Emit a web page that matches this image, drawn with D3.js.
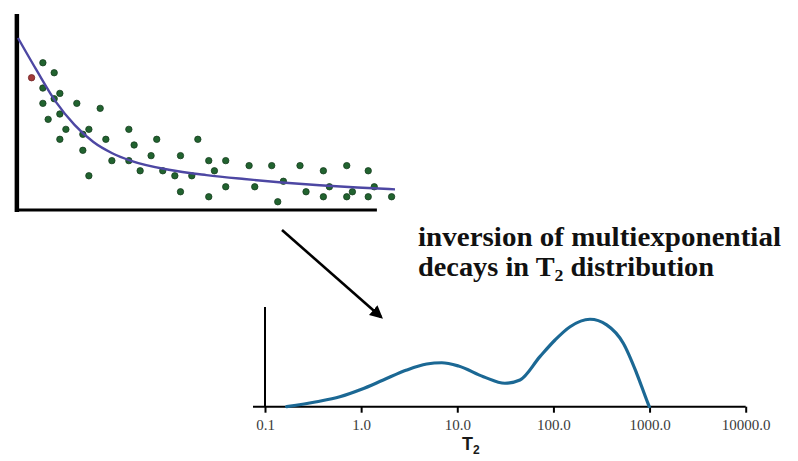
<!DOCTYPE html>
<html>
<head>
<meta charset="utf-8">
<script src="https://cdn.jsdelivr.net/npm/d3@7"></script>
<style>
  html, body { margin: 0; padding: 0; background: #fff; }
  svg { display: block; }
</style>
</head>
<body>
<svg id="fig" width="798" height="461"></svg>
<script>
// ---- Decay data: echo amplitude vs. time (arbitrary units) ----
const decayTimes = [0, 5, 10, 15, 20, 25, 30, 40, 50, 60, 70, 80, 90, 100];
const decayFit   = [100, 81, 63, 49.5, 39.5, 33, 28.6, 23.4, 20.3, 18, 16, 14.4, 13.1, 12];

const echoTimes = [6.6, 9.6, 6.6, 11.1, 9.6, 6.6, 15.6, 21.8, 11.1, 8.0,
                   12.7, 18.8, 29.4, 17.2, 11.1, 23.3, 36.8, 47.7, 30.8, 17.2,
                   35.3, 43.1, 24.9, 29.4, 50.6, 55.1, 32.4, 38.4, 52.1, 61.3,
                   67.3, 74.8, 87.2, 81.0, 92.9, 18.8, 41.6, 46.1, 70.4, 55.1,
                   62.8, 82.6, 94.5, 43.1, 76.4, 88.7, 50.6, 81.0, 87.2, 92.9,
                   99.1, 68.9];
const echoAmps  = [85.6, 79.8, 70.9, 67.8, 64.7, 62.0, 62.0, 59.1, 55.8, 52.7,
                   46.9, 46.9, 46.9, 44.0, 41.1, 41.1, 41.1, 41.1, 37.8, 34.7,
                   31.6, 31.6, 28.7, 28.7, 28.7, 28.7, 22.8, 22.8, 22.8, 25.8,
                   25.8, 25.8, 25.8, 22.8, 22.8, 19.9, 19.9, 19.9, 16.7, 13.5,
                   13.5, 13.5, 13.5, 10.6, 10.6, 10.6, 7.7, 7.7, 7.7, 7.7,
                   7.7, 4.8];
// first echo, flagged
const flaggedTime = [3.6];
const flaggedAmp  = [76.9];

// ---- T2 distribution ----
const t2Ticks  = [0.1, 1, 10, 100, 1000, 10000];
const t2Values = [0.168, 0.345, 0.60, 1.01, 1.70, 2.98, 4.81, 6.89, 10.3, 18.7,
                  31.3, 44.9, 72.4, 104, 149, 240, 358, 533, 734, 933, 993];
const t2Amps   = [0, 0.05, 0.10, 0.175, 0.268, 0.368, 0.428, 0.441, 0.408, 0.301,
                  0.235, 0.268, 0.502, 0.669, 0.802, 0.877, 0.82, 0.636, 0.335, 0.067, 0];

const captionLine1 = "inversion of multiexponential";
const captionLine2 = ["decays in T", "2", " distribution"];

const svg = d3.select("#fig");

// ================= decay panel =================
const xD = d3.scaleLinear().domain([0, 100]).range([18, 395]);
const yD = d3.scaleLinear().domain([0, 100]).range([210, 38]);

const gD = svg.append("g");

// axes (plain heavy lines)
gD.append("line")
  .attr("x1", xD(-0.3)).attr("x2", xD(-0.3))
  .attr("y1", yD(114)).attr("y2", yD(-1.2))
  .attr("stroke", "#000").attr("stroke-width", 4.5);
gD.append("line")
  .attr("x1", xD(-0.8)).attr("x2", xD(95.2))
  .attr("y1", yD(0)).attr("y2", yD(0))
  .attr("stroke", "#000").attr("stroke-width", 3);

// echo points
gD.selectAll("circle.echo")
  .data(d3.range(echoTimes.length))
  .join("circle")
  .attr("class", "echo")
  .attr("cx", i => xD(echoTimes[i]))
  .attr("cy", i => yD(echoAmps[i]))
  .attr("r", 3.2)
  .attr("fill", "#21632f")
  .attr("stroke", "#163d20")
  .attr("stroke-width", 0.8);

gD.selectAll("circle.flag")
  .data(d3.range(flaggedTime.length))
  .join("circle")
  .attr("class", "flag")
  .attr("cx", i => xD(flaggedTime[i]))
  .attr("cy", i => yD(flaggedAmp[i]))
  .attr("r", 3.2)
  .attr("fill", "#a33a3a")
  .attr("stroke", "#6e2424")
  .attr("stroke-width", 0.8);

// fitted decay curve
const decayLine = d3.line()
  .x(i => xD(decayTimes[i]))
  .y(i => yD(decayFit[i]))
  .curve(d3.curveMonotoneX);
gD.append("path")
  .attr("d", decayLine(d3.range(decayTimes.length)))
  .attr("fill", "none")
  .attr("stroke", "#4d47a3")
  .attr("stroke-width", 2.4);

// ================= arrow =================
const defs = svg.append("defs");
defs.append("marker")
  .attr("id", "head")
  .attr("viewBox", "0 0 10 10")
  .attr("refX", 8).attr("refY", 5)
  .attr("markerWidth", 5).attr("markerHeight", 5)
  .attr("orient", "auto")
  .append("path")
  .attr("d", "M0,0 L10,5 L0,10 Z")
  .attr("fill", "#000");

svg.append("line")
  .attr("x1", 282).attr("y1", 230)
  .attr("x2", 381).attr("y2", 317)
  .attr("stroke", "#000")
  .attr("stroke-width", 2.6)
  .attr("marker-end", "url(#head)");

// ================= caption (two lines) =================
const capFont = "'Liberation Serif', 'Times New Roman', serif";

svg.append("text")
  .attr("x", 418).attr("y", 246)
  .attr("font-family", capFont)
  .attr("font-weight", "bold")
  .attr("font-size", 27)
  .attr("fill", "#111")
  .attr("textLength", 363)
  .attr("lengthAdjust", "spacingAndGlyphs")
  .text(captionLine1);

const cap2 = svg.append("text")
  .attr("x", 418).attr("y", 276)
  .attr("font-family", capFont)
  .attr("font-weight", "bold")
  .attr("font-size", 27)
  .attr("fill", "#111")
  .attr("textLength", 296)
  .attr("lengthAdjust", "spacingAndGlyphs");
cap2.append("tspan").text(captionLine2[0]);
cap2.append("tspan").text(captionLine2[1]).attr("font-size", 17).attr("dy", 5);
cap2.append("tspan").text(captionLine2[2]).attr("dy", -5);

// ================= T2 distribution panel =================
const xT = d3.scaleLog().domain([0.1, 10000]).range([265, 745.7]);
const yT = d3.scaleLinear().domain([0, 1]).range([406.7, 307]);

const gT = svg.append("g");

// y axis
gT.append("line")
  .attr("x1", xT(0.1)).attr("x2", xT(0.1))
  .attr("y1", yT(1)).attr("y2", yT(0))
  .attr("stroke", "#000").attr("stroke-width", 2);

// x axis: ticks + labels through d3.axisBottom
const axisT = d3.axisBottom(xT)
  .tickValues(t2Ticks)
  .tickFormat(d3.format(".1f"))
  .tickSize(6)
  .tickSizeOuter(0);

const ax = gT.append("g")
  .attr("transform", `translate(0,${yT(0)})`)
  .call(axisT);
ax.select(".domain").remove();
ax.selectAll(".tick line").attr("stroke", "#000").attr("stroke-width", 2);
ax.selectAll(".tick text")
  .attr("y", 23.5).attr("dy", 0)
  .attr("font-family", capFont)
  .attr("font-size", 15)
  .attr("fill", "#3a3a3a");

gT.append("line")
  .attr("x1", xT(0.1) - 12).attr("x2", xT(10000))
  .attr("y1", yT(0)).attr("y2", yT(0))
  .attr("stroke", "#000").attr("stroke-width", 2);

// distribution curve
const distLine = d3.line()
  .x(i => xT(t2Values[i]))
  .y(i => yT(t2Amps[i]))
  .curve(d3.curveMonotoneX);
gT.append("path")
  .attr("d", distLine(d3.range(t2Values.length)))
  .attr("fill", "none")
  .attr("stroke", "#1b6894")
  .attr("stroke-width", 3.2)
  .attr("stroke-linecap", "round");

// axis title
const xt = gT.append("text")
  .attr("x", 462).attr("y", 450)
  .attr("font-family", "'Liberation Sans', Arial, sans-serif")
  .attr("font-weight", "bold")
  .attr("font-size", 18)
  .attr("fill", "#1a1a1a");
xt.append("tspan").text("T");
xt.append("tspan").text("2").attr("font-size", 12).attr("dy", 4);
</script>
</body>
</html>
